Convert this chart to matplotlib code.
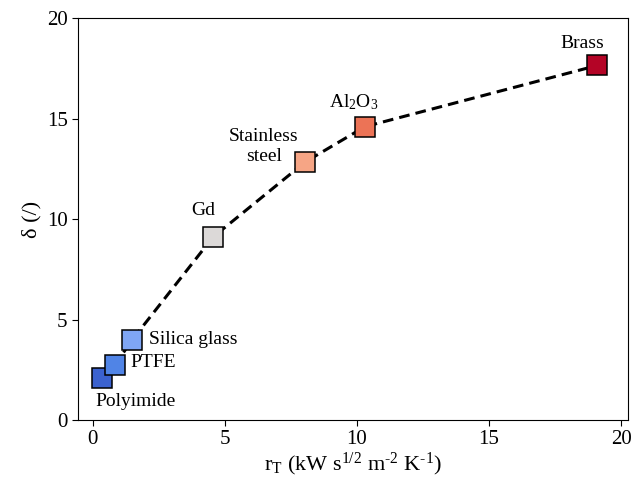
import matplotlib
matplotlib.use("Agg")
import matplotlib.pyplot as plt

materials = ["Polyimide", "PTFE", "Silica glass", "Gd", "Stainless\nsteel", "Al$_2$O$_3$", "Brass"]
r_t = [0.35, 0.85, 1.5, 4.55, 8.05, 10.3, 19.1]
delta = [2.1, 2.75, 4.0, 9.1, 12.85, 14.6, 17.65]
colors = ["#3b62cf", "#5084e6", "#7fa6f5", "#dcd9d8", "#f6a585", "#ec7356", "#b40426"]

plt.rcParams['font.family'] = ['Liberation Serif', 'DejaVu Serif']
plt.rcParams['mathtext.fontset'] = 'custom'
plt.rcParams['mathtext.rm'] = 'Liberation Serif'
plt.rcParams['mathtext.it'] = 'Liberation Serif:italic'

fig, ax = plt.subplots(figsize=(6.4, 4.79), dpi=100)
fig.subplots_adjust(left=0.122, right=0.981, top=0.962, bottom=0.123)

ax.plot(r_t, delta, color="black", linestyle="--", linewidth=2.2, dashes=(3.5, 2), zorder=1)
for x, y, c in zip(r_t, delta, colors):
    ax.plot(x, y, marker="s", markersize=15, color=c, markeredgecolor="black",
            markeredgewidth=1.1, linestyle="none", zorder=2)

# label placement (offsets in points)
offsets = [(-5, -17, "left"), (11, 2, "left"), (12, 0, "left"),
           (-7, 19, "center"), (-30, 11, "center"), (-8, 18, "center"), (-11, 16, "center")]
for name, x, y, (dx, dy, ha) in zip(materials, r_t, delta, offsets):
    ax.annotate(name, (x, y), xytext=(dx, dy), textcoords="offset points",
                ha=ha, va="center", fontsize=14, linespacing=1.25)

ax.set_xlim(-0.55, 20.25)
ax.set_ylim(0, 20)
ax.set_xticks([0, 5, 10, 15, 20])
ax.set_yticks([0, 5, 10, 15, 20])
ax.tick_params(labelsize=15, direction="out", length=4)
ax.set_xlabel("r$_\\mathrm{T}$ (kW s$^{1/2}$ m$^{\\text{-2}}$ K$^{\\text{-1}}$)", fontsize=16, labelpad=1)
ax.set_ylabel("δ (/)", fontsize=16)

fig.savefig("out.png", dpi=100)
